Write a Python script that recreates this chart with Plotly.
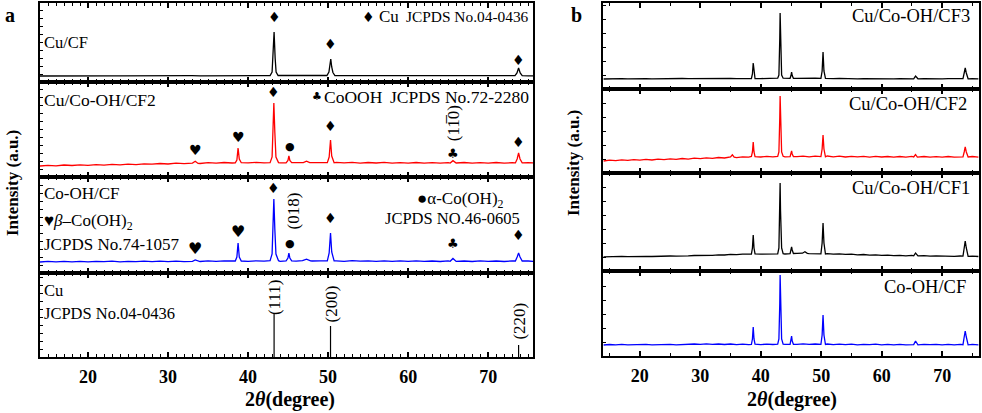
import plotly.graph_objects as go

# ---------------- data (intensities in arbitrary units) ----------------
two_theta_bg = list(range(14, 77))

# panel a
cu_cf_bg = [6.0, 6.1, 6.0, 6.1, 6.0, 6.1, 6.1, 6.0, 6.1, 6.2,
            6.1, 6.2, 6.1, 6.2, 6.2, 6.1, 6.2, 6.3, 6.2, 6.3,
            6.2, 6.3, 6.3, 6.2, 6.4, 6.3, 6.4, 6.3, 6.5, 6.5,
            6.5, 6.4, 6.3, 6.4, 6.3, 6.4, 6.5, 6.5, 6.3, 6.2,
            6.3, 6.2, 6.2, 6.1, 6.2, 6.1, 6.2, 6.1, 6.2, 6.1,
            6.2, 6.1, 6.2, 6.1, 6.2, 6.1, 6.2, 6.1, 6.2, 6.3,
            6.3, 6.2, 6.1]
cu_cf_peaks = [
    [(42.75, 6.5), (43.0, 10), (43.12, 24), (43.25, 50), (43.38, 24), (43.5, 10), (43.75, 6.5)],
    [(49.85, 6.5), (50.1, 10), (50.22, 16), (50.33, 23), (50.45, 15), (50.6, 9.5), (50.85, 6.5)],
    [(73.35, 6.3), (73.6, 9), (73.8, 14), (74.0, 9), (74.25, 6.3)],
]

cu_coh_cf2_a_bg = [11.0, 11.7, 11.2, 12.0, 11.5, 12.2, 11.7, 12.4, 11.9, 12.6,
                   12.2, 12.9, 12.4, 13.2, 12.8, 13.5, 13.0, 13.9, 13.3, 14.0,
                   13.5, 14.3, 13.8, 14.5, 14.0, 14.6, 14.1, 14.6, 14.2, 14.5,
                   14.1, 14.6, 14.2, 14.7, 14.3, 14.6, 14.1, 14.7, 14.2, 14.6,
                   13.9, 14.5, 14.0, 14.6, 13.9, 14.4, 13.8, 14.5, 13.9, 14.4,
                   13.8, 14.3, 14.0, 14.5, 13.8, 14.4, 13.9, 14.5, 13.8, 14.3,
                   14.0, 14.4, 13.9]
cu_coh_cf2_a_peaks = [
    [(33.05, 13.9), (33.4, 15.8), (33.75, 13.6)],
    [(38.4, 14.2), (38.6, 17), (38.75, 29), (38.9, 18), (39.15, 14.3)],
    [(42.75, 14.3), (43.0, 20), (43.12, 46), (43.22, 74), (43.34, 45), (43.48, 20), (43.8, 14.4)],
    [(44.75, 14.2), (44.98, 16.5), (45.1, 21), (45.22, 16.5), (45.45, 14.4)],
    [(46.9, 14.4), (47.3, 15.8), (47.7, 14.3)],
    [(49.9, 14.4), (50.13, 20), (50.3, 37), (50.45, 21), (50.75, 14.2)],
    [(65.25, 13.9), (65.6, 16.3), (65.95, 14.0)],
    [(73.4, 14.1), (73.62, 18), (73.8, 24), (73.98, 18), (74.25, 14.2)],
]

coh_cf_a_bg = [11.0, 11.6, 11.1, 11.7, 11.2, 11.6, 11.1, 11.7, 11.3, 11.8,
               11.2, 11.7, 11.3, 11.8, 11.4, 11.9, 11.3, 11.8, 11.4, 12.0,
               11.5, 12.1, 11.6, 12.2, 11.7, 12.1, 11.6, 12.2, 11.8, 12.1,
               11.7, 12.3, 11.8, 12.6, 12.0, 12.2, 11.8, 12.2, 11.7, 12.3,
               11.8, 12.2, 11.7, 12.1, 11.6, 12.2, 11.7, 12.1, 11.6, 12.0,
               11.5, 12.1, 11.6, 12.0, 11.5, 12.1, 11.6, 12.0, 11.5, 12.1,
               11.6, 12.0, 11.5]
coh_cf_a_peaks = [
    [(33.05, 11.7), (33.4, 13.0), (33.75, 11.8)],
    [(38.4, 12.0), (38.6, 16), (38.75, 30), (38.9, 16), (39.15, 12.0)],
    [(42.75, 12.4), (43.0, 19), (43.12, 46), (43.22, 74), (43.34, 44), (43.48, 19), (43.8, 12.3)],
    [(44.75, 12.1), (44.98, 15), (45.1, 20), (45.22, 15), (45.45, 12.2)],
    [(46.8, 12.3), (47.3, 13.8), (47.8, 12.2)],
    [(49.9, 12.2), (50.13, 20), (50.3, 40), (50.45, 21), (50.75, 12.1)],
    [(65.25, 11.7), (65.6, 14.5), (65.95, 11.8)],
    [(73.4, 12.0), (73.62, 16), (73.8, 20), (73.98, 16), (74.25, 12.0)],
]

cu_ref_pos = [43.25, 50.3, 73.8]
cu_ref_int = [44, 31, 12]
cu_ref_hkl = ["(111)", "(200)", "(220)"]
cu_ref_hkl_y = [60, 53, 36]

# panel b
cf3_bg = [10.0, 10.3, 10.1, 10.4, 10.1, 10.3, 10.2, 10.4, 10.1, 10.3,
          10.2, 10.4, 10.2, 10.5, 10.3, 10.4, 10.2, 10.5, 10.3, 10.6,
          10.4, 10.6, 10.3, 10.7, 10.4, 10.6, 10.4, 10.7, 10.5, 10.8,
          10.6, 10.9, 10.6, 10.8, 10.5, 10.8, 10.5, 10.7, 10.4, 10.6,
          10.3, 10.5, 10.2, 10.4, 10.2, 10.4, 10.1, 10.3, 10.1, 10.3,
          10.1, 10.3, 10.2, 10.4, 10.1, 10.3, 10.1, 10.3, 10.0, 10.2,
          10.1, 10.3, 10.1]
cf3_peaks = [
    [(38.45, 10.5), (38.62, 15), (38.75, 26), (38.88, 15), (39.05, 10.5)],
    [(42.8, 10.8), (43.0, 14), (43.08, 25), (43.14, 50), (43.2, 76), (43.27, 48), (43.33, 25), (43.45, 14), (43.7, 10.8)],
    [(44.85, 10.7), (45.0, 13.5), (45.1, 17), (45.2, 13.5), (45.4, 10.7)],
    [(49.95, 10.6), (50.15, 18), (50.3, 37), (50.45, 18), (50.7, 10.6)],
    [(65.3, 10.2), (65.6, 13), (65.9, 10.2)],
    [(73.45, 10.3), (73.65, 16), (73.82, 21), (74.0, 16), (74.3, 10.2)],
]

cf2_bg = [12.0, 12.9, 12.3, 13.1, 12.6, 13.3, 12.8, 13.6, 13.0, 13.9,
          13.3, 14.2, 13.6, 14.5, 13.9, 14.8, 14.3, 15.2, 14.6, 15.5,
          15.0, 16.3, 15.4, 16.2, 15.8, 16.6, 16.0, 16.7, 16.2, 16.8,
          16.1, 16.9, 16.3, 16.8, 16.2, 16.9, 16.3, 17.0, 16.2, 16.8,
          16.0, 16.7, 16.1, 16.6, 15.9, 16.6, 16.0, 16.5, 15.8, 16.5,
          15.9, 16.6, 16.0, 16.5, 15.8, 16.4, 15.9, 16.5, 15.8, 16.4,
          16.0, 16.5, 15.9]
cf2_peaks = [
    [(35.0, 16.1), (35.3, 18.2), (35.6, 15.9)],
    [(38.45, 16.5), (38.62, 21), (38.75, 31), (38.88, 21), (39.05, 16.4)],
    [(42.8, 16.6), (43.0, 21), (43.08, 34), (43.14, 55), (43.2, 77), (43.27, 54), (43.33, 33), (43.45, 21), (43.7, 16.7)],
    [(44.85, 16.3), (45.0, 19), (45.1, 22), (45.2, 19), (45.4, 16.5)],
    [(49.95, 16.4), (50.15, 24), (50.3, 38), (50.45, 24), (50.7, 16.2)],
    [(65.3, 16.0), (65.6, 18.5), (65.9, 15.9)],
    [(73.45, 16.1), (73.65, 21), (73.82, 26), (74.0, 21), (74.3, 16.0)],
]

cf1_bg = [14.2, 14.5, 14.3, 14.6, 14.3, 14.6, 14.4, 14.7, 14.5, 14.8,
          14.6, 15.0, 14.8, 15.3, 15.1, 15.5, 15.4, 15.9, 15.6, 16.2,
          16.0, 16.6, 16.3, 16.9, 16.6, 17.1, 16.8, 17.2, 16.9, 17.3,
          17.0, 17.5, 17.6, 18.2, 17.4, 17.3, 16.9, 17.4, 16.9, 17.2,
          16.6, 16.9, 16.2, 16.5, 15.9, 16.2, 15.6, 15.9, 15.4, 15.7,
          15.2, 15.6, 15.1, 15.4, 14.9, 15.2, 14.8, 15.1, 14.7, 15.0,
          14.6, 14.9, 14.5]
cf1_peaks = [
    [(38.45, 17.0), (38.62, 23), (38.75, 36), (38.88, 23), (39.05, 17.1)],
    [(42.8, 17.2), (43.0, 23), (43.08, 40), (43.14, 62), (43.2, 88), (43.27, 60), (43.33, 38), (43.45, 23), (43.7, 17.3)],
    [(44.85, 17.3), (45.0, 21), (45.1, 24), (45.2, 21), (45.4, 17.5)],
    [(46.9, 17.8), (47.3, 19.2), (47.7, 17.6)],
    [(49.95, 17.1), (50.15, 28), (50.3, 48), (50.45, 28), (50.7, 17.0)],
    [(65.3, 15.2), (65.6, 18), (65.9, 15.0)],
    [(73.45, 14.9), (73.65, 23), (73.82, 30), (74.0, 23), (74.3, 14.7)],
]

coh_cf_b_bg = [11.0, 11.5, 11.1, 11.6, 11.2, 11.5, 11.1, 11.6, 11.2, 11.5,
               11.1, 11.6, 11.2, 11.7, 11.5, 12.0, 11.6, 12.1, 11.7, 12.0,
               11.5, 12.0, 11.4, 11.9, 11.3, 11.8, 11.4, 11.9, 11.5, 12.0,
               11.6, 12.1, 11.7, 12.2, 11.6, 12.0, 11.5, 12.0, 11.4, 11.9,
               11.3, 11.8, 11.2, 11.7, 11.3, 11.8, 11.2, 11.7, 11.2, 11.6,
               11.1, 11.6, 11.2, 11.7, 11.3, 11.7, 11.2, 11.6, 11.1, 11.6,
               11.2, 11.6, 11.1]
coh_cf_b_peaks = [
    [(38.45, 11.7), (38.62, 17), (38.75, 29), (38.88, 17), (39.05, 11.8)],
    [(42.8, 11.9), (43.0, 17), (43.08, 30), (43.14, 52), (43.2, 81), (43.27, 50), (43.33, 29), (43.45, 17), (43.7, 11.9)],
    [(44.85, 11.6), (45.0, 15), (45.1, 20), (45.2, 15), (45.4, 11.7)],
    [(49.95, 11.6), (50.15, 21), (50.3, 41), (50.45, 21), (50.7, 11.5)],
    [(65.3, 11.4), (65.6, 15), (65.9, 11.3)],
    [(73.45, 11.3), (73.65, 19), (73.82, 25), (74.0, 19), (74.3, 11.2)],
]

x_ticks = [20, 30, 40, 50, 60, 70]
panel_b_labels = ["Cu/Co-OH/CF3", "Cu/Co-OH/CF2", "Cu/Co-OH/CF1", "Co-OH/CF"]
panel_b_label_y = [73, 69, 83, 69]
panel_b_label_x = [75.0, 74.4, 75.0, 74.3]

# phase markers: (symbol, 2theta, height, size)
marks_a1 = [("\u2666", 43.25, 65, 14), ("\u2666", 50.3, 38, 14), ("\u2666", 73.8, 22, 14)]
marks_a2 = [("\u2666", 43.22, 85, 14), ("\u2665", 33.4, 27, 14), ("\u2665", 38.75, 40, 14),
            ("\u25cf", 45.2, 31, 11), ("\u2666", 50.3, 51, 14), ("\u2663", 65.6, 24, 13),
            ("\u2666", 73.8, 35, 14)]
marks_a3 = [("\u2666", 43.22, 85, 14), ("\u2665", 38.75, 42, 16), ("\u2665", 33.4, 25, 16),
            ("\u25cf", 45.2, 30, 11), ("\u2666", 50.3, 55, 14), ("\u2663", 65.6, 30, 13),
            ("\u2666", 73.8, 38, 14)]

# ---------------- layout geometry (pixels) ----------------
W, H = 982, 413
PA_X = (40, 533)
PB_X = (603, 979)
PA_Y = [3, 82, 177, 273, 357]
PB_Y = [3, 89, 173, 271, 356]
RANGE_A = [14, 75.6]
RANGE_B = [13.9, 76.1]
SERIF = "Liberation Serif, Times New Roman, serif"
SYMF = "DejaVu Sans"

BLACK, RED, BLUE = "#000000", "#ff0000", "#0000ff"


def merge(bg, peaks):
    pts = []
    for x, y in zip(two_theta_bg, bg):
        if not any(p[0][0] <= x <= p[-1][0] for p in peaks):
            pts.append((x, y))
    for p in peaks:
        pts.extend(p)
    pts.sort()
    return [p[0] for p in pts], [p[1] for p in pts]


fig = go.Figure()
layout = dict(width=W, height=H, margin=dict(l=0, r=0, t=0, b=0), autosize=False,
              paper_bgcolor="white", plot_bgcolor="white", showlegend=False)

subplots = []
for i in range(4):
    subplots.append((i + 1, PA_X, PA_Y[i], PA_Y[i + 1], RANGE_A, 1, 8, i == 3))
for i in range(4):
    subplots.append((i + 5, PB_X, PB_Y[i], PB_Y[i + 1], RANGE_B, 5, 14, i == 3))

for k, xd, top, bot, xr, mdt, ydt, bottom_axis in subplots:
    hpx = bot - top
    sfx = "" if k == 1 else str(k)
    layout["xaxis" + sfx] = dict(
        domain=[xd[0] / W, xd[1] / W], anchor="y" + sfx, range=xr,
        showline=True, linecolor="black", linewidth=2, mirror="ticks",
        ticks="inside", ticklen=5, tickwidth=1.5, tickcolor="black",
        tickvals=x_ticks, showgrid=False, zeroline=False,
        minor=dict(ticks="inside", dtick=mdt, ticklen=3, tickwidth=1, tickcolor="black", showgrid=False),
        showticklabels=bottom_axis,
        tickfont=dict(family=SERIF, size=18, color="black", weight="bold"),
        ticklabelstandoff=2,
    )
    layout["yaxis" + sfx] = dict(
        domain=[1 - bot / H, 1 - top / H], anchor="x" + sfx, range=[0, hpx],
        showline=True, linecolor="black", linewidth=2, mirror=True,
        ticks="inside", ticklen=3, tickwidth=1, tickcolor="black", dtick=ydt, tick0=0,
        showticklabels=False, showgrid=False, zeroline=False,
    )

traces = [
    (1, cu_cf_bg, cu_cf_peaks, BLACK),
    (2, cu_coh_cf2_a_bg, cu_coh_cf2_a_peaks, RED),
    (3, coh_cf_a_bg, coh_cf_a_peaks, BLUE),
    (5, cf3_bg, cf3_peaks, BLACK),
    (6, cf2_bg, cf2_peaks, RED),
    (7, cf1_bg, cf1_peaks, BLACK),
    (8, coh_cf_b_bg, coh_cf_b_peaks, BLUE),
]
for k, bg, pk, col in traces:
    xs, ys = merge(bg, pk)
    sfx = "" if k == 1 else str(k)
    fig.add_trace(go.Scatter(x=xs, y=ys, mode="lines", line=dict(color=col, width=1.3),
                             xaxis="x" + sfx, yaxis="y" + sfx, hoverinfo="skip"))

sx, sy = [], []
for p, v in zip(cu_ref_pos, cu_ref_int):
    sx += [p, p, None]
    sy += [0, v, None]
fig.add_trace(go.Scatter(x=sx, y=sy, mode="lines", line=dict(color="black", width=1.2),
                         xaxis="x4", yaxis="y4", hoverinfo="skip"))

ann = []


def A(k, x, y, text, size=17, xanchor="center", angle=0, family=SERIF, bold=False):
    sfx = "" if k == 1 else str(k)
    ann.append(dict(xref="x" + sfx, yref="y" + sfx, x=x, y=y, text=text, showarrow=False,
                    xanchor=xanchor, yanchor="middle", textangle=angle,
                    font=dict(family=family, size=size, color="black",
                              weight="bold" if bold else "normal")))


def P(px, py, text, size, angle=0, xanchor="center", bold=True):
    ann.append(dict(xref="paper", yref="paper", x=px / W, y=1 - py / H, text=text,
                    showarrow=False, xanchor=xanchor, yanchor="middle", textangle=angle,
                    font=dict(family=SERIF, size=size, color="black",
                              weight="bold" if bold else "normal")))


for k, marks in ((1, marks_a1), (2, marks_a2), (3, marks_a3)):
    for sym, x, y, s in marks:
        A(k, x, y, sym, size=s, family=SYMF)

A(1, 14.25, 39, "Cu/CF", 16.5, "left")
A(1, 55.0, 65, "\u2666", 14, family=SYMF)
A(1, 56.1, 65, "Cu", 17, "left")
A(1, 75.3, 65, "JCPDS No.04-0436", 15.4, "right")

A(2, 14.25, 77, "Cu/Co-OH/CF2", 17.5, "left")
A(2, 48.6, 80, "\u2663", 11, family=SYMF)
A(2, 49.2, 80, "CoOOH", 17.5, "left")
A(2, 75.3, 80, "JCPDS No.72-2280", 17.5, "right")
A(2, 65.75, 54, "(11\u03050)", 17, angle=-90)

A(3, 14.25, 80, "Co-OH/CF", 17, "left")
A(3, 14.25, 51, "\u2665<i>β</i>\u2013Co(OH)<sub>2</sub>", 17, "left")
A(3, 14.25, 29, "JCPDS No.74-1057", 17, "left")
A(3, 60.8, 73, "\u25cf\u03b1-Co(OH)<sub>2</sub>", 17, "left")
A(3, 56.8, 55, "JCPDS NO.46-0605", 16.5, "left")
A(3, 45.55, 62, "(018)", 17, angle=-90)

A(4, 14.25, 67, "Cu", 16.5, "left")
A(4, 14.25, 44, "JCPDS No.04-0436", 16.5, "left")
for p, lab, yy in zip(cu_ref_pos, cu_ref_hkl, cu_ref_hkl_y):
    A(4, p, yy, lab, 17, angle=-90)

for i, (lab, yy, xx) in enumerate(zip(panel_b_labels, panel_b_label_y, panel_b_label_x)):
    A(5 + i, xx, yy, lab, 18.5, "right")

P(10, 15, "a", 20)
P(576, 15, "b", 20)
P(290, 399, "2<i>θ</i>(degree)", 20)
P(792, 399, "2<i>θ</i>(degree)", 20)
P(13, 183, "Intensity (a.u.)", 17, angle=-90)
P(573, 163, "Intensity (a.u.)", 17, angle=-90)

layout["annotations"] = ann
fig.update_layout(**layout)
fig.write_html("out.html", config={"displayModeBar": False},
               post_script="document.body.style.margin='0';document.body.style.overflow='hidden';")
